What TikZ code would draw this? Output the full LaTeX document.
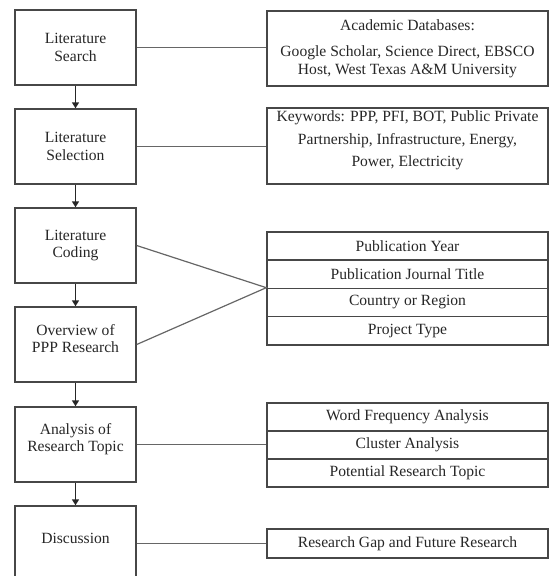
\documentclass[tikz,border=0pt]{standalone}
\usepackage{fontspec}
\setmainfont{Liberation Serif}
\usetikzlibrary{arrows.meta}

\begin{document}
\begin{tikzpicture}[x=1pt,y=-1pt,
	stage/.style={draw=black!72,line width=1.4pt,minimum width=121pt,minimum height=75pt,align=center,inner sep=0pt,text=black!85,font=\fontsize{15.6}{17.5}\selectfont},
	info/.style={draw=black!72,line width=1.4pt,minimum width=281pt,align=center,inner sep=0pt,text=black!85,font=\fontsize{15.6}{17.5}\selectfont},
	lift/.style={text depth=#1},
	flow/.style={draw=black!85,line width=1.9pt,-{Triangle[length=6pt,width=7pt]}},
	link/.style={draw=black!60,line width=1.2pt}]
				  \clip (0,0) rectangle (550,576);
				  %LEFT COLUMN
				  \node[stage](search) at (75.5,47.5) {Literature\\Search};
				  \node[stage](selection) at (75.5,146.5) {Literature\\Selection};
				  \node[stage](coding) at (75.5,245.5) {Literature\\Coding};
				  \node[stage,lift=12pt](overview) at (75.5,344.5) {Overview of\\PPP Research};
				  \node[stage,lift=14pt](analysis) at (75.5,444.5) {Analysis of\\Research Topic};
				  \node[stage,lift=11pt](discussion) at (75.5,543.5) {Discussion};
				  
				  \draw[flow] (search) -- (selection);
				  \draw[flow] (selection) -- (coding);
				  \draw[flow] (coding) -- (overview);
				  \draw[flow] (overview) -- (analysis);
				  \draw[flow] (analysis) -- (discussion);
				  
				  %RIGHT COLUMN
				  \node[info,minimum height=75pt](databases) at (407.5,48.5) {Academic Databases:\\[9pt]Google Scholar, Science Direct, EBSCO\\Host, West Texas A\&M University};
				  \node[info,minimum height=76pt,lift=14pt](keywords) at (407.5,146) {Keywords: PPP, PFI, BOT, Public Private\\[5pt]Partnership, Infrastructure, Energy,\\[5pt]Power, Electricity};
				  %CODING ROWS
				  \node[info,minimum height=28.25pt](year) at (407.5,246) {Publication Year};
				  \node[info,minimum height=28.25pt](journal) at (407.5,274.25) {Publication Journal Title};
				  \node[info,minimum height=28.25pt](country) at (407.5,302.5) {Country or Region};
				  \node[info,minimum height=28.25pt](type) at (407.5,330.75) {Project Type};
				  %TOPIC ROWS
				  \node[info,minimum height=28pt](frequency) at (407.5,417) {Word Frequency Analysis};
				  \node[info,minimum height=28pt](cluster) at (407.5,445) {Cluster Analysis};
				  \node[info,minimum height=28pt](potential) at (407.5,473) {Potential Research Topic};
				  \node[info,minimum height=29pt](gap) at (407.5,543.5) {Research Gap and Future Research};
				  
				  %LINKS
				  \coordinate (junction) at (country.north west);
				  \draw[link] (search.east) -- (search.east -| databases.west);
				  \draw[link] (selection.east) -- (selection.east -| keywords.west);
				  \draw[link] (coding.east) -- (junction) -- (overview.east);
				  \draw[link] (analysis.east) -- (analysis.east -| cluster.west);
				  \draw[link] (discussion.east) -- (discussion.east -| gap.west);
\end{tikzpicture}
\end{document}
